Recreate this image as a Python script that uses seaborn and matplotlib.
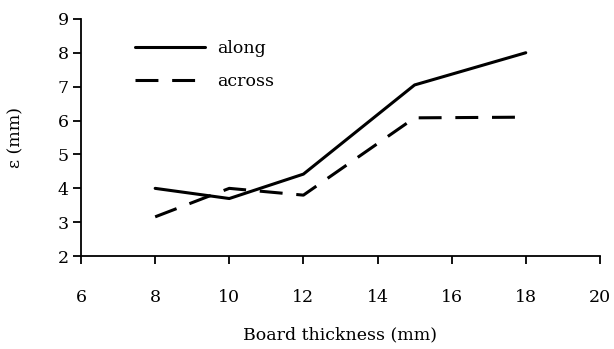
import matplotlib
matplotlib.use("Agg")
import matplotlib.pyplot as plt
import seaborn as sns
import pandas as pd

# Board thickness (mm) and measured deformation epsilon (mm)
thickness = [8, 10, 12, 15, 18]
along = [4.0, 3.7, 4.42, 7.05, 8.0]
across = [3.16, 4.0, 3.8, 6.08, 6.1]
series_names = ["along", "across"]

df = pd.DataFrame({
    "thickness": thickness * 2,
    "eps": along + across,
    "direction": [series_names[0]] * len(thickness) + [series_names[1]] * len(thickness),
})

sns.set_theme(style="ticks")
plt.rcParams["font.family"] = ["DejaVu Serif"]
plt.rcParams["text.color"] = "black"
plt.rcParams["axes.labelcolor"] = "black"

fig = plt.figure(figsize=(6.14, 3.49), dpi=100)
ax = fig.add_axes([0.132, 0.266, 0.845, 0.68])

sns.lineplot(
    data=df, x="thickness", y="eps", style="direction",
    style_order=series_names,
    dashes={"along": "", "across": (7.5, 4.5)},
    color="black", linewidth=2.2, ax=ax,
)

ax.set_xlim(6, 20)
ax.set_ylim(2, 9)
ax.set_xticks(range(6, 21, 2))
ax.set_yticks(range(2, 10))
sns.despine(ax=ax)
for s in ("left", "bottom"):
    ax.spines[s].set_linewidth(1.3)
    ax.spines[s].set_color("black")
ax.tick_params(axis="x", direction="out", length=6, width=1.3, pad=18,
               labelsize=12.5, colors="black")
ax.tick_params(axis="y", direction="out", length=6, width=1.3, pad=3,
               labelsize=12.5, colors="black")

ax.set_xlabel("Board thickness (mm)", fontsize=12.5, labelpad=14, color="black")
ax.set_ylabel("ε (mm)", fontsize=12.5, labelpad=24, color="black")

leg = ax.legend(
    loc="upper left", bbox_to_anchor=(0.074, 0.975), frameon=False,
    fontsize=12.5, handlelength=4.0, handletextpad=0.75, labelspacing=0.9,
)
for text in leg.get_texts():
    text.set_color("black")
for line in leg.get_lines():
    line.set_linewidth(2.2)

fig.savefig("out.png", dpi=100, facecolor="white")
